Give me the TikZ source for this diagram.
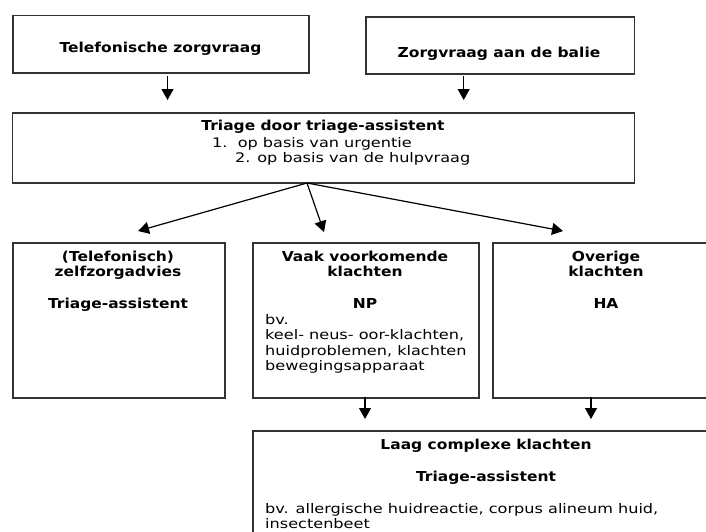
\documentclass[tikz,border=0pt]{standalone}
\usepackage{fontspec}
\usetikzlibrary{arrows.meta}
\newfontfamily\bfnt[FakeStretch=1.13]{DejaVu Sans}
\newfontfamily\rfnt[FakeStretch=1.22]{DejaVu Sans}
\newcommand\fst{\rule{0pt}{12pt}}
\tikzset{
  bx/.style={draw=black!80, line width=1.6pt, inner sep=0pt, anchor=north west},
  btxt/.style={font=\bfnt\bfseries\fontsize{13.7}{15.5}\selectfont, align=center, inner sep=0pt, anchor=north},
  rtxt/.style={font=\rfnt\fontsize{13.2}{15.4}\selectfont, align=left, inner sep=0pt, anchor=north west},
  arr/.style={-{Triangle[width=12pt,length=11pt]}, line width=1.2pt, black}
}
\begin{document}
\begin{tikzpicture}[x=1pt,y=-1pt]
\useasboundingbox (0,0) rectangle (706,531);
\clip (0,0) rectangle (706,531);
% boxes
\node[bx, minimum width=296pt, minimum height=57.3pt] (A) at (12,14.7) {};
\node[bx, minimum width=268.5pt, minimum height=57pt] (B) at (365,16) {};
\node[bx, minimum width=622pt, minimum height=70pt] (T) at (11.5,112) {};
\node[bx, minimum width=212pt, minimum height=155pt] (K1) at (12,242) {};
\node[bx, minimum width=226pt, minimum height=155pt] (K2) at (252,242) {};
\node[bx, minimum width=228pt, minimum height=155pt] (K3) at (492,242) {};
\node[bx, minimum width=468pt, minimum height=140pt] (L) at (252,430) {};
% texts
\node[btxt] (tA) at (160.5,40) {\fst Telefonische zorgvraag};
\node[btxt] (tB) at (499,45) {\fst Zorgvraag aan de balie};
\node[btxt] (tT) at (323,118) {\fst Triage door triage-assistent};
\node[rtxt] (tT1) at (212,135) {\fst 1.\ \ op basis van urgentie};
\node[rtxt] (tT2) at (235,150) {\fst 2. op basis van de hulpvraag};
\node[btxt] (t1) at (118,249) {\fst (Telefonisch)\\zelfzorgadvies\\[16.5pt]Triage-assistent};
\node[btxt] (t2) at (365,249) {\fst Vaak voorkomende\\klachten\\[16.5pt]NP};
\node[rtxt] (t2b) at (265,312) {\fst bv.\\keel- neus- oor-klachten,\\huidproblemen, klachten\\bewegingsapparaat};
\node[btxt] (t3) at (606,249) {\fst Overige\\klachten\\[16.5pt]HA};
\node[btxt] (tL) at (486,437) {\fst Laag complexe klachten\\[16.5pt]Triage-assistent};
\node[rtxt] (tL2) at (265,501) {\fst bv. allergische huidreactie, corpus alineum huid,\\insectenbeet};
% connector coordinates
\coordinate (a0) at (167.5,76);  \coordinate (a1) at (167.5,100);
\coordinate (b0) at (463.7,76);  \coordinate (b1) at (463.7,100);
\coordinate (fo) at (307,183);
\coordinate (f1) at (138,231);
\coordinate (f2) at (324,232);
\coordinate (f3) at (563,231);
\coordinate (c0) at (365,397); \coordinate (c1) at (365,419);
\coordinate (d0) at (591,397); \coordinate (d1) at (591,419);
\draw[arr] (a0) -- (a1);
\draw[arr] (b0) -- (b1);
\draw[arr] (fo) -- (f1);
\draw[arr] (fo) -- (f2);
\draw[arr] (fo) -- (f3);
\draw[arr] (c0) -- (c1);
\draw[arr] (d0) -- (d1);
\end{tikzpicture}
\end{document}
